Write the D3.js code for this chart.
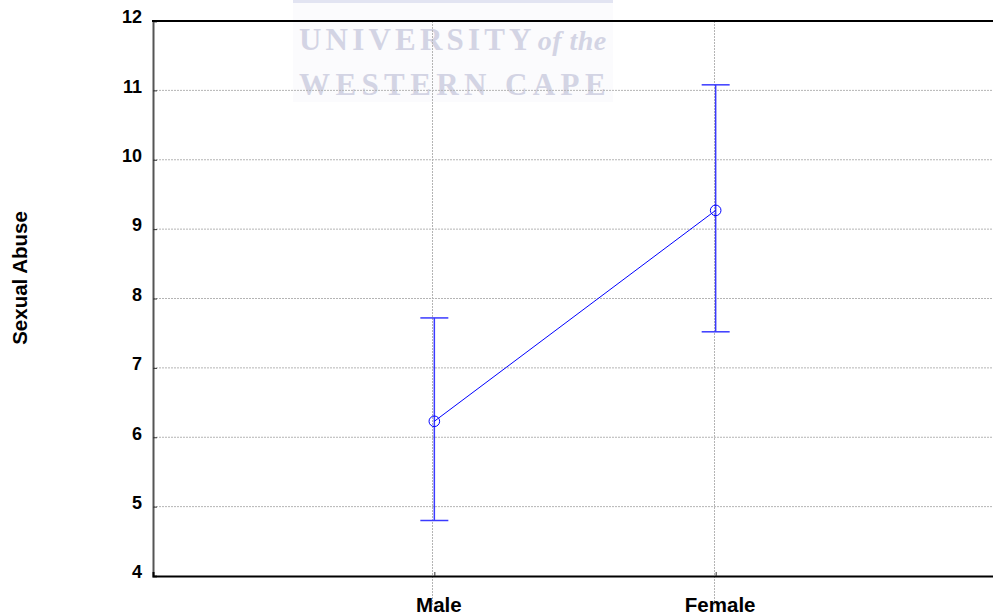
<!DOCTYPE html>
<html><head><meta charset="utf-8">
<script src="https://cdn.jsdelivr.net/npm/d3@7"></script>
<style>body{margin:0;background:#fff}svg{display:block}</style>
</head><body>
<svg id="chart" width="993" height="616"></svg>
<script>
const categories = ["Male", "Female"];
const means = [6.23, 9.27];
const upper = [7.72, 11.08];
const lower = [4.80, 7.52];
const yTicks = [4, 5, 6, 7, 8, 9, 10, 11, 12];
const yTitle = "Sexual Abuse";

const svg = d3.select("#chart");
const m = {left: 153, top: 21, right: 993, bottom: 576};
const x = d3.scalePoint().domain(categories).range([m.left, 997]).padding(1);
const y = d3.scaleLinear().domain([4, 12]).range([m.bottom, m.top]);
const sans = "Liberation Sans, Arial, sans-serif";

// watermark
const wm = svg.append("g");
wm.append("rect").attr("x", 293).attr("y", 0).attr("width", 320).attr("height", 102).attr("fill", "#fbfbfd");
wm.append("rect").attr("x", 293).attr("y", 0).attr("width", 320).attr("height", 3).attr("fill", "#e2e4f2");
const t1 = wm.append("text").attr("x", 299).attr("y", 50).attr("font-family", "Liberation Serif, serif")
  .attr("font-weight", "bold").attr("font-size", 31).attr("fill", "#d3d4e4").attr("letter-spacing", 4.2);
t1.append("tspan").text("UNIVERSITY");
t1.append("tspan").attr("font-style", "italic").attr("font-size", 28).attr("letter-spacing", 0.5).attr("dx", 2).text("of the");
wm.append("text").attr("x", 299).attr("y", 95).attr("font-family", "Liberation Serif, serif")
  .attr("font-weight", "bold").attr("font-size", 31).attr("fill", "#d3d4e4").attr("letter-spacing", 5.4).text("WESTERN CAPE");

// grid
svg.append("g").selectAll("line").data(yTicks.filter(d => d > 4 && d < 12)).join("line")
  .attr("x1", m.left).attr("x2", m.right).attr("y1", d => y(d)).attr("y2", d => y(d))
  .attr("stroke", "#b4b4b4").attr("stroke-dasharray", "2,1").attr("stroke-width", 1);
svg.append("g").selectAll("line").data(categories).join("line")
  .attr("x1", d => Math.round(x(d)) - 1.5).attr("x2", d => Math.round(x(d)) - 1.5).attr("y1", m.top).attr("y2", m.bottom + 30)
  .attr("stroke", "#b4b4b4").attr("stroke-dasharray", "2,1").attr("stroke-width", 1);

// axes
const yAxis = d3.axisLeft(y).tickValues(yTicks).tickSize(-4).tickPadding(11).tickFormat(d3.format("d"));
const ga = svg.append("g").attr("transform", `translate(${m.left},0)`).call(yAxis);
ga.select(".domain").attr("stroke", "#555").attr("stroke-width", 2);
ga.selectAll(".tick line").attr("stroke", "#333");
ga.selectAll("text").attr("font-family", sans).attr("font-weight", "bold")
  .attr("font-size", 18).attr("fill", "#000").attr("dy", "0.1em");

const xAxis = d3.axisBottom(x).tickSize(-4).tickPadding(21);
const gx = svg.append("g").attr("transform", `translate(0,${m.bottom})`).call(xAxis);
gx.select(".domain").attr("stroke", "#000").attr("stroke-width", 2);
gx.selectAll(".tick line").attr("stroke", "#333");
gx.selectAll("text").attr("font-family", sans).attr("font-weight", "bold")
  .attr("font-size", 20.5).attr("fill", "#000").attr("dx", 4);

// top border
svg.append("line").attr("x1", m.left - 1).attr("x2", m.right).attr("y1", m.top).attr("y2", m.top)
  .attr("stroke", "#000").attr("stroke-width", 2);

// y title
svg.append("text").attr("transform", "translate(27,278) rotate(-90)")
  .attr("text-anchor", "middle").attr("font-family", sans)
  .attr("font-weight", "bold").attr("font-size", 20.5).text(yTitle);

// error bars
const data = categories.map((c, i) => ({c, m: means[i], u: upper[i], l: lower[i]}));
const eb = svg.append("g").attr("stroke", "#3a3aff").attr("stroke-width", 1.5).attr("fill", "none");
eb.selectAll(".v").data(data).join("line").attr("x1", d => x(d.c)).attr("x2", d => x(d.c))
  .attr("y1", d => y(d.u)).attr("y2", d => y(d.l));
eb.selectAll(".cu").data(data).join("line").attr("x1", d => x(d.c) - 14).attr("x2", d => x(d.c) + 14)
  .attr("y1", d => y(d.u)).attr("y2", d => y(d.u));
eb.selectAll(".cl").data(data).join("line").attr("x1", d => x(d.c) - 14).attr("x2", d => x(d.c) + 14)
  .attr("y1", d => y(d.l)).attr("y2", d => y(d.l));

// mean line
svg.append("path").datum(data).attr("fill", "none").attr("stroke", "#0000ff").attr("stroke-width", 1)
  .attr("d", d3.line().x(d => x(d.c)).y(d => y(d.m)));
svg.append("g").selectAll("circle").data(data).join("circle")
  .attr("cx", d => x(d.c)).attr("cy", d => y(d.m)).attr("r", 5.3)
  .attr("fill", "none").attr("stroke", "#0000ff").attr("stroke-width", 1);
</script>
</body></html>
